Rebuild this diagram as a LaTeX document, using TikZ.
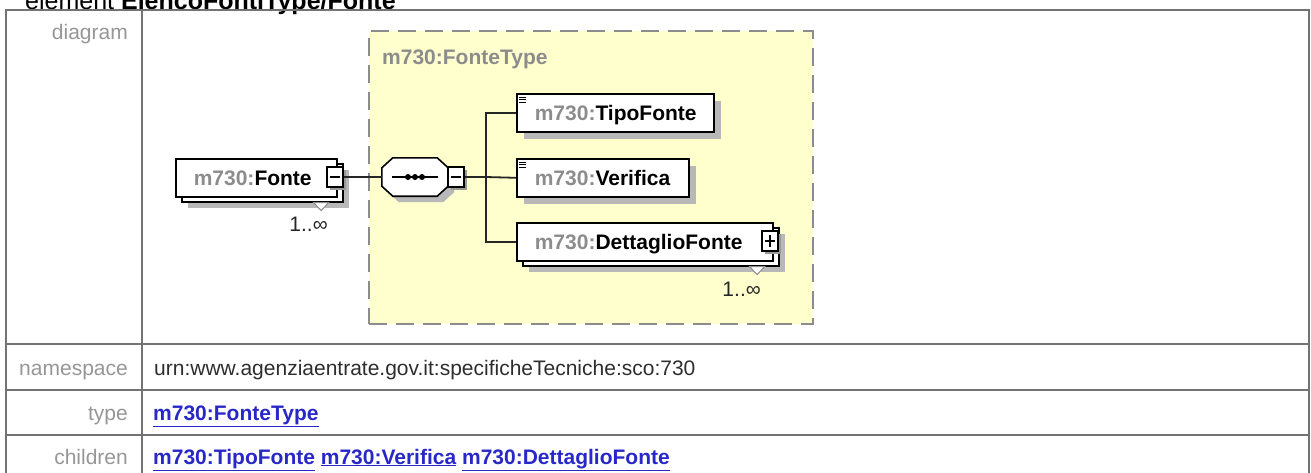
\documentclass[tikz,border=0pt]{standalone}
\usepackage{fontspec}
\setmainfont{Liberation Sans}
\usetikzlibrary{shadows,calc}
\definecolor{lblgray}{RGB}{150,150,150}
\definecolor{pfxgray}{RGB}{140,140,140}
\definecolor{linkblue}{RGB}{40,40,200}
\definecolor{tablegray}{RGB}{115,115,115}
\definecolor{ybox}{RGB}{255,255,206}
\definecolor{ydash}{RGB}{140,140,140}
\definecolor{valtext}{RGB}{45,45,45}
\newcommand{\mysz}{\fontsize{21}{25}\selectfont}
\newcommand{\pfx}[1]{\textcolor{pfxgray}{#1}}
\tikzset{
  tline/.style={draw=tablegray, line width=2.6pt},
  lbl/.style={font=\mysz, text=lblgray, inner sep=0pt},
  val/.style={font=\mysz, text=valtext, inner sep=0pt},
  lnk/.style={font=\mysz\bfseries, text=linkblue, inner sep=0pt},
  conn/.style={draw=black!85, line width=1.8pt},
  elembase/.style={draw=black, line width=1.6pt, fill=white, anchor=north west,
    inner xsep=18pt, inner ysep=0pt, minimum height=38pt, text height=15pt,
    text depth=0pt, align=left, font=\mysz\bfseries},
  elem/.style={elembase,
    drop shadow={shadow xshift=7pt, shadow yshift=-7pt, fill=black!28, opacity=1}},
  elemm/.style={elembase,
    drop shadow={shadow xshift=12pt, shadow yshift=-11pt, fill=black!28, opacity=1},
    copy shadow={shadow xshift=6pt, shadow yshift=-5pt, fill=white, draw=black, line width=1.6pt}},
  btnbase/.style={draw=black, line width=1.8pt, fill=white, minimum width=16pt,
    minimum height=20pt, inner sep=0pt,
    drop shadow={shadow xshift=3pt, shadow yshift=-3pt, fill=black!40, opacity=1}},
  minusbtn/.style={btnbase, path picture={
    \draw[line width=1.4pt] ([xshift=3pt]path picture bounding box.west) -- ([xshift=-3pt]path picture bounding box.east);}},
  plusbtn/.style={btnbase, path picture={
    \draw[line width=1.4pt] ([xshift=3pt]path picture bounding box.west) -- ([xshift=-3pt]path picture bounding box.east);
    \draw[line width=1.4pt] ([yshift=-4pt]path picture bounding box.north) -- ([yshift=4pt]path picture bounding box.south);}},
  occur/.style={draw=black!45, line width=1pt, fill=white},
  mult/.style={font=\mysz, text=black!85, inner sep=0pt, anchor=base east},
  typebox/.style={draw=ydash, dash pattern=on 18pt off 9pt, line width=1.8pt, fill=ybox,
    anchor=north west, inner sep=0pt},
}
\begin{document}
\begin{tikzpicture}[x=1pt,y=-1pt]
\useasboundingbox (0,0) rectangle (1311,472);
% heading (cut by the top edge, as in the reference)
\node[anchor=base west, inner sep=0pt, font=\fontsize{25}{30}\selectfont] (title) at (25,9) {element \textbf{ElencoFontiType/Fonte}};
% table
\draw[tline] (6,485) -- (6,10) -- (1309,10) -- (1309,485);
\draw[tline] (142,10) -- (142,485);
\draw[tline] (6,344) -- (1309,344);
\draw[tline] (6,390) -- (1309,390);
\draw[tline] (6,435) -- (1309,435);
\node[lbl, anchor=base east] (ldiag) at (128,39) {diagram};
\node[lbl, anchor=base east] (lns) at (128,375) {namespace};
\node[lbl, anchor=base east] (ltype) at (128,420) {type};
\node[lbl, anchor=base east] (lchild) at (128,464) {children};
\node[val, anchor=base west] (vns) at (154,375) {urn:www.agenziaentrate.gov.it:specificheTecniche:sco:730};
\node[lnk, anchor=base west] (vtype) at (153,420) {\underline{m730:FonteType}};
\node[lnk, anchor=base west] (vchild) at (153,464) {\underline{m730:TipoFonte} \underline{m730:Verifica} \underline{m730:DettaglioFonte}};
% complex type box
\node[typebox, minimum width=444pt, minimum height=293pt] (ftype) at (368,30) {};
\node[anchor=base west, inner sep=0pt, font=\mysz\bfseries, text=pfxgray] (ftypelbl) at (382,64) {m730:FonteType};
% sequence compositor
\node[minimum width=66pt, minimum height=38pt, inner sep=0pt] (seq) at (415,177) {};
\draw[draw=black, line width=1.6pt, fill=white,
  drop shadow={shadow xshift=6pt, shadow yshift=-6pt, fill=black!28, opacity=1}]
  ($(seq.north west)+(11,0)$) -- ($(seq.north east)+(-11,0)$) -- ($(seq.north east)+(0,10)$)
  -- ($(seq.south east)+(0,-10)$) -- ($(seq.south east)+(-11,0)$) -- ($(seq.south west)+(11,0)$)
  -- ($(seq.south west)+(0,-10)$) -- ($(seq.north west)+(0,10)$) -- cycle;
\draw[line width=1.6pt] ($(seq.west)+(10,0)$) -- ($(seq.east)+(-10,0)$);
\fill ($(seq.center)+(-7,0)$) circle (3);
\fill (seq.center) circle (3);
\fill ($(seq.center)+(7,0)$) circle (3);
\node[minusbtn] (seqbtn) at (456,177) {};
% elements
\node[elemm, text width=125pt] (fonte) at (175,158) {\pfx{m730:}Fonte};
\node[minusbtn] (fontebtn) at (335,177) {};
\node[elem, text width=161pt] (tipo) at (516,93) {\pfx{m730:}TipoFonte};
\node[elem, text width=136pt] (verif) at (516,158) {\pfx{m730:}Verifica};
\node[elemm, text width=220pt] (dett) at (516,222) {\pfx{m730:}DettaglioFonte};
\node[plusbtn] (dettbtn) at (770,241) {};
% simple-type icons
\foreach \n in {tipo,verif}{
  \foreach \d in {4,6.5,9}{
    \draw[line width=0.9pt] ($(\n.north west)+(3,\d)$) -- ++(7,0);
  }
}
% occurrence marks
\coordinate (fo) at ($(fonte.south east)+(6,5)$);
\draw[occur] ($(fo)+(-30,0)$) -- ($(fo)+(-15,0)$) -- ($(fo)+(-22.5,8)$) -- cycle;
\node[mult] (fontem) at (328,231) {1..∞};
\coordinate (dto) at ($(dett.south east)+(6,5)$);
\draw[occur] ($(dto)+(-30,0)$) -- ($(dto)+(-15,0)$) -- ($(dto)+(-22.5,8)$) -- cycle;
\node[mult] (dettm) at (761,296) {1..∞};
% connectors
\coordinate (trunk) at (486,177);
\draw[conn] (fontebtn.east) -- (seq.west |- fontebtn.east);
\draw[conn] (seqbtn.east) -- (trunk);
\draw[conn] (trunk) |- (tipo.west);
\draw[conn] (trunk) -- (verif.west);
\draw[conn] (trunk) |- (dett.west);
\end{tikzpicture}
\end{document}
